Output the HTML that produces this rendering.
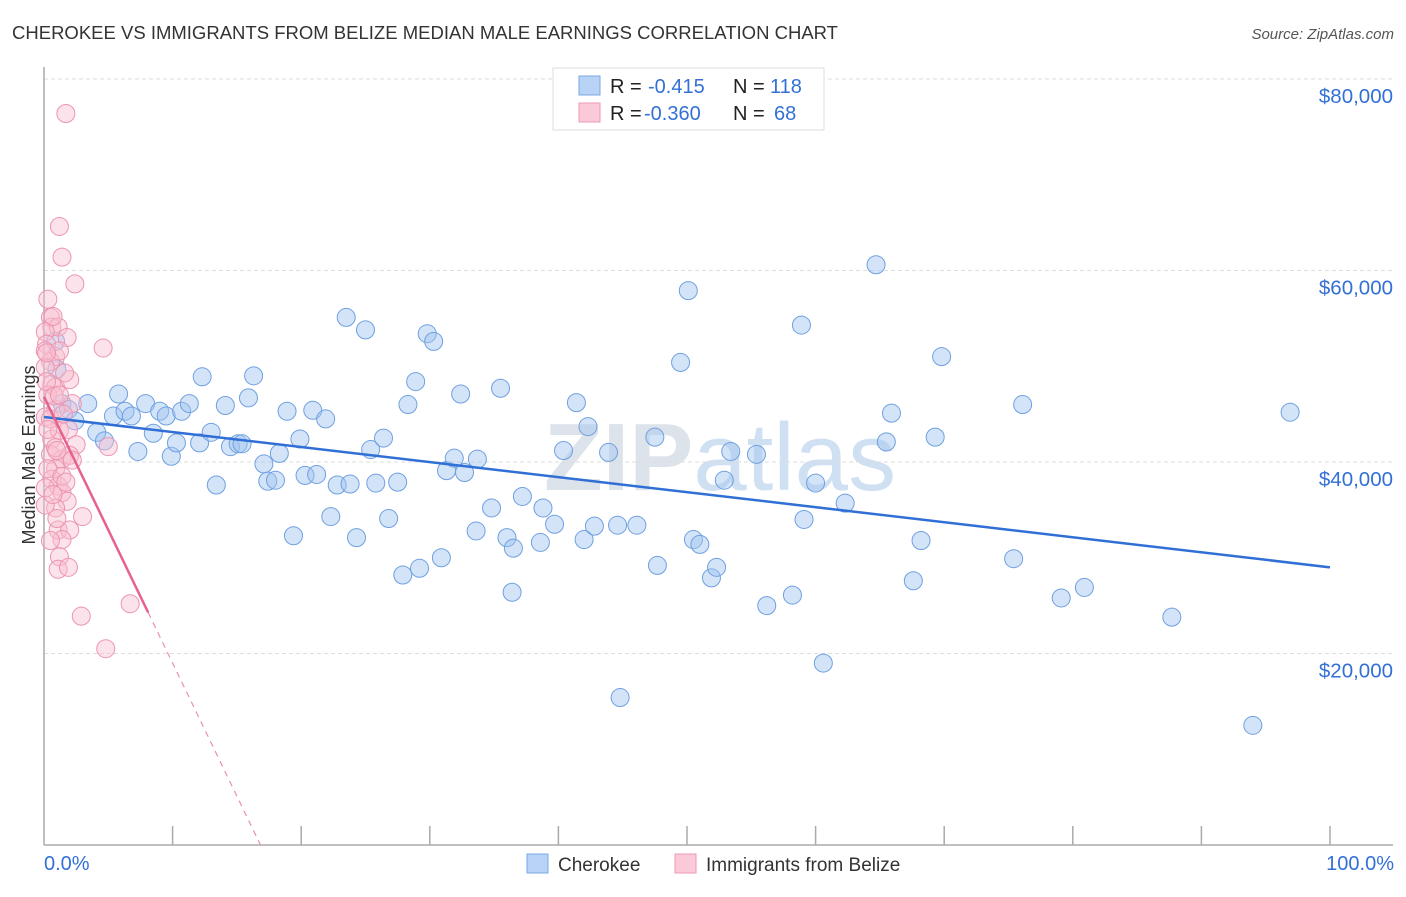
<!DOCTYPE html>
<html><head><meta charset="utf-8">
<style>
body{margin:0;background:#fff;font-family:"Liberation Sans",sans-serif;}
svg text{font-family:"Liberation Sans",sans-serif;}
</style></head>
<body>
<svg id="chart" width="1406" height="892" xmlns="http://www.w3.org/2000/svg">
<text x="12" y="39" font-size="18" fill="#333" textLength="826" lengthAdjust="spacingAndGlyphs">CHEROKEE VS IMMIGRANTS FROM BELIZE MEDIAN MALE EARNINGS CORRELATION CHART</text>
<text x="1394" y="39" font-size="15" fill="#555" font-style="italic" text-anchor="end">Source: ZipAtlas.com</text>
<text x="720" y="490" font-size="96" fill="#dde3ea" text-anchor="middle" font-weight="bold">ZIP<tspan font-weight="normal" fill="#cfe0f3">atlas</tspan></text>
<g id="grid"></g>
<g id="axes"></g>
<g id="pts"></g>
<g id="lines"></g>
<text transform="translate(35,455) rotate(-90)" font-size="18" fill="#333" text-anchor="middle">Median Male Earnings</text>
<g>
<rect x="553" y="68" width="271" height="62" fill="#fff" stroke="#ddd"/>
<rect x="579" y="76" width="21" height="19" fill="#b8d3f5" stroke="#7aa9e6"/>
<rect x="579" y="103" width="21" height="19" fill="#fbc9d8" stroke="#ee9ab5"/>
<text x="610" y="93" font-size="20" fill="#222">R = </text><text x="648" y="93" font-size="20" fill="#3370d6">-0.415</text>
<text x="733" y="93" font-size="20" fill="#222">N = </text><text x="770" y="93" font-size="20" fill="#3370d6">118</text>
<text x="610" y="120" font-size="20" fill="#222">R = </text><text x="644" y="120" font-size="20" fill="#3370d6">-0.360</text>
<text x="733" y="120" font-size="20" fill="#222">N = </text><text x="774" y="120" font-size="20" fill="#3370d6">68</text>
</g>
<g>
<rect x="527" y="854" width="21" height="19" fill="#b8d3f5" stroke="#7aa9e6"/>
<text x="558" y="871" font-size="19" fill="#333">Cherokee</text>
<rect x="675" y="854" width="21" height="19" fill="#fbc9d8" stroke="#ee9ab5"/>
<text x="706" y="871" font-size="19" fill="#333">Immigrants from Belize</text>
</g>
<text x="44" y="870" font-size="20" fill="#3370d6">0.0%</text>
<text x="1394" y="870" font-size="20" fill="#3370d6" text-anchor="end">100.0%</text>
</svg>
<script>
const yTicks=[20000,40000,60000,80000];
const yTickLabels=["$20,000","$40,000","$60,000","$80,000"];
const cherokeeX=[0.9,1,1.4,1.9,2.4,3.4,4.1,4.7,5.4,5.8,6.3,6.8,7.3,7.9,8.5,9,9.5,9.9,10.3,10.7,11.3,12.1,12.3,13,13.4,14.1,14.5,15.1,15.4,15.9,16.3,17.1,17.4,18,18.3,18.9,19.4,19.9,20.3,20.9,21.2,21.9,22.3,22.8,23.5,23.8,24.3,25,25.4,25.8,26.4,26.8,27.5,27.9,28.3,28.9,29.2,29.8,30.3,30.9,31.3,31.9,32.4,32.7,33.6,33.7,34.8,35.5,36,36.4,36.5,37.2,38.6,38.8,39.7,40.4,41.4,42,42.3,42.8,43.9,44.6,44.8,46.1,47.5,47.7,49.5,50.1,50.5,51,51.9,52.3,52.9,53.4,55.4,56.2,58.2,58.9,59.1,60,60.6,62.3,64.7,65.5,65.9,67.6,68.2,69.3,69.8,75.4,76.1,79.1,80.9,87.7,94,96.9];
const cherokeeY=[52600,49700,46100,45500,44300,46100,43100,42200,44800,47100,45300,44800,41100,46100,43000,45300,44800,40600,42000,45300,46100,42000,48900,43100,37600,45900,41600,41900,41900,46700,49000,39800,38000,38100,40900,45300,32300,42400,38600,45400,38700,44500,34300,37600,55100,37700,32100,53800,41300,37800,42500,34100,37900,28200,46000,48400,28900,53400,52600,30000,39100,40400,47100,38900,32800,40300,35200,47700,32100,26400,31000,36400,31600,35200,33500,41200,46200,31900,43700,33300,41000,33400,15400,33400,42600,29200,50400,57900,31900,31400,27900,29000,38100,41100,40800,25000,26100,54300,34000,37800,19000,35700,60600,42100,45100,27600,31800,42600,51000,29900,46000,25800,26900,23800,12500,45200];
const belizeX=[1.7,1.2,1.4,2.4,4.6,0.5,0.6,1.1,0.1,1.8,0.2,0.9,0.5,0.1,0.6,0.9,2,0.3,0.9,2.2,0.1,0.6,1.2,1.9,2.5,5,0.5,1.4,0.9,0.6,1.1,0.1,1.4,1.8,0.9,3,1.1,2,1.4,1.2,1.1,1.9,2.9,6.7,4.8,0.1,0.3,0.7,1.2,0.5,1.5,0.9,0.3,1.4,2,0.1,1,0.5,1.6,0.2,0.8,1.7,2.2,1.2,0.3,1,0.7,0.2];
const belizeY=[76400,64600,61400,58600,51900,55100,54100,54100,53600,53000,52300,51000,50500,49900,48100,47800,48600,47000,45500,46100,44700,42400,43300,43400,41800,41600,40800,40300,39300,38200,37500,37300,36800,35900,35200,34300,32900,32900,31900,30100,28800,29000,23900,25200,20500,51600,57000,55200,51600,44500,45000,41500,39300,38500,40700,35500,34100,31800,49300,48400,46900,37900,40200,47000,43400,41200,36600,51400];
const cherokeeTrend=[44700,29000];
const belizeTrend=[46800,-2780];
const X0=44,X1=1330,Y0=845,YS=191.5/20000;
function sx(v){return X0+(X1-X0)*v/100;}
function sy(v){return Y0-v*YS;}
const NS="http://www.w3.org/2000/svg";
function mk(tag,attrs,parent){const e=document.createElementNS(NS,tag);for(const k in attrs)e.setAttribute(k,attrs[k]);parent.appendChild(e);return e;}
const grid=document.getElementById('grid'),axes=document.getElementById('axes'),pts=document.getElementById('pts'),lines=document.getElementById('lines');
yTicks.forEach((t,i)=>{
 const l=mk('line',{x1:44,x2:1393,y1:sy(t),y2:sy(t),stroke:'#ddd','stroke-dasharray':'4,3'},grid);
 
 
 const tx=mk('text',{x:1393,y:sy(t)+24,'font-size':20.5,fill:'#3370d6','text-anchor':'end'},grid);
 tx.textContent=yTickLabels[i];
 
 
});
const ya=mk('line',{x1:44,x2:44,y1:67,y2:845,stroke:'#aaa','stroke-width':1.5},axes);


const xa=mk('line',{x1:44,x2:1393,y1:845,y2:845,stroke:'#aaa','stroke-width':1.5},axes);


for(let i=1;i<=10;i++){const t=mk('line',{x1:sx(i*10),x2:sx(i*10),y1:826,y2:845,stroke:'#aaa','stroke-width':1.5},axes);
 
 }
cherokeeX.forEach((x,i)=>{const c=mk('circle',{cx:sx(x),cy:sy(cherokeeY[i]),r:9,fill:'rgba(160,196,240,0.45)',stroke:'#6fa0e0','stroke-width':1},pts);
 
 });
belizeX.forEach((x,i)=>{const c=mk('circle',{cx:sx(x),cy:sy(belizeY[i]),r:9,fill:'rgba(248,190,208,0.45)',stroke:'#ec95b1','stroke-width':1},pts);
 
 });
const bl=mk('line',{x1:sx(0),y1:sy(cherokeeTrend[0]),x2:sx(100),y2:sy(cherokeeTrend[1]),stroke:'#2f6fd6','stroke-width':2.5},lines);


const pi=belizeTrend[0],ps=belizeTrend[1];
const pxEnd=8.1;
const pl=mk('line',{x1:sx(0),y1:sy(pi),x2:sx(pxEnd),y2:sy(pi+ps*pxEnd),stroke:'#e8608e','stroke-width':2.5},lines);


const zx=-pi/ps;
const pd=mk('line',{x1:sx(pxEnd),y1:sy(pi+ps*pxEnd),x2:sx(zx),y2:sy(0),stroke:'#ec8fae','stroke-width':1.2,'stroke-dasharray':'6,5'},lines);


</script>
</body></html>
